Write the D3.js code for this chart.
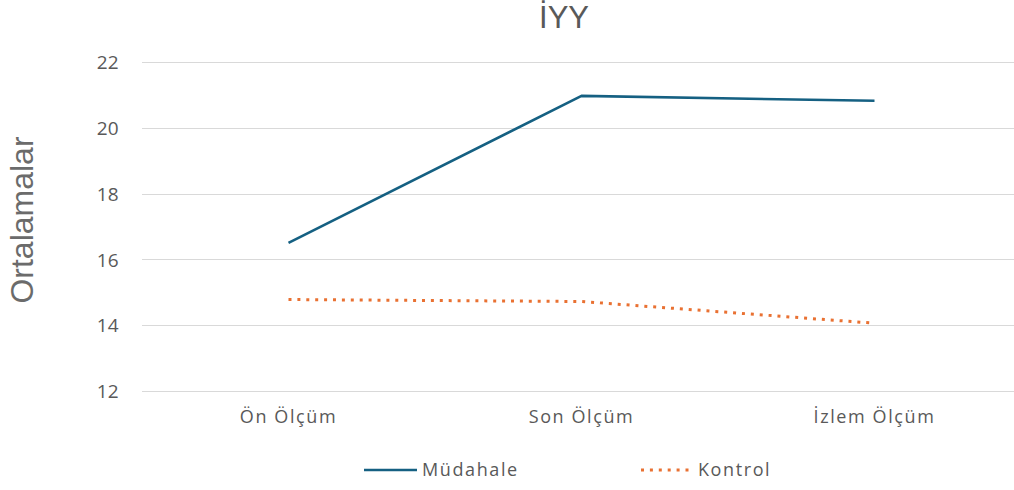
<!DOCTYPE html>
<html lang="tr">
<head>
  <meta charset="utf-8">
  <title>İYY</title>
  <script src="https://d3js.org/d3.v7.min.js"></script>
  <style>
  body {
    margin: 0;
    background: white;
  }
  .title {
    font-family: "Liberation Sans", Arial, sans-serif;
    font-size: 31px;
    fill: #595959;
    text-anchor: middle;
  }
  .y-title {
    font-family: "Liberation Sans", Arial, sans-serif;
    font-size: 32px;
    fill: #6b6b6b;
    text-anchor: middle;
  }
  .tick text, .legend text {
    font-family: "Open Sans", Roboto, sans-serif;
    font-weight: 500;
    fill: #595959;
  }
  .x-axis .tick text, .legend text {
    font-size: 18px;
    letter-spacing: 1.6px;
  }
  .y-axis .tick text {
    font-size: 19px;
    letter-spacing: 0.3px;
  }
  .grid line {
    stroke: #d9d9d9;
    stroke-width: 1;
  }
  </style>
</head>
<body>
<script>

// Data
var categories = ["Ön Ölçüm", "Son Ölçüm", "İzlem Ölçüm"];
var mudahale = [16.5, 20.97, 20.82];
var kontrol = [14.78, 14.72, 14.06];
var seriesNames = ["Müdahale", "Kontrol"];
var yTicks = [12, 14, 16, 18, 20, 22];

// Display constants
var width = 1014;
var height = 490;
var plotLeft = 142;
var plotRight = 1021;
var plotTop = 62;
var plotBottom = 391;

var colors = ["#156082", "#E97132"];

var svg = d3.select("body")
  .append("svg")
  .attr("width", width)
  .attr("height", height);

var x = d3.scaleBand()
  .domain(categories)
  .range([plotLeft, plotRight]);

var y = d3.scaleLinear()
  .domain([12, 22])
  .range([plotBottom, plotTop]);

// Gridlines
svg.append("g")
  .attr("class", "grid")
  .selectAll("line")
  .data(yTicks)
  .enter().append("line")
  .attr("x1", plotLeft)
  .attr("x2", width)
  .attr("y1", function(d) { return Math.round(y(d)) + 0.5; })
  .attr("y2", function(d) { return Math.round(y(d)) + 0.5; });

// Y axis labels
var yAxis = svg.append("g")
  .attr("class", "y-axis")
  .attr("transform", "translate(" + 119 + ",0)")
  .call(d3.axisLeft(y).tickValues(yTicks).tickSize(0).tickPadding(0));
yAxis.select(".domain").remove();
yAxis.selectAll("text").attr("dy", "0.35em");

// X axis labels
var xAxis = svg.append("g")
  .attr("class", "x-axis")
  .attr("transform", "translate(0," + 423 + ")")
  .call(d3.axisBottom(x).tickSize(0).tickPadding(0));
xAxis.select(".domain").remove();
xAxis.selectAll("text").attr("y", 0).attr("dy", 0);

// Lines
var line = d3.line()
  .x(function(d, i) { return x(categories[i]) + x.bandwidth() / 2; })
  .y(function(d) { return y(d); });

svg.append("path")
  .datum(mudahale)
  .attr("fill", "none")
  .attr("stroke", colors[0])
  .attr("stroke-width", 2.6)
  .attr("stroke-linejoin", "round")
  .attr("d", line);

svg.append("path")
  .datum(kontrol)
  .attr("fill", "none")
  .attr("stroke", colors[1])
  .attr("stroke-width", 3)
  .attr("stroke-dasharray", "3,5.9")
  .attr("d", line);

// Title
svg.append("text")
  .attr("class", "title")
  .attr("x", 564)
  .attr("y", 28)
  .text("İYY");

// Y axis title
svg.append("text")
  .attr("class", "y-title")
  .attr("transform", "translate(33,220) rotate(-90)")
  .text("Ortalamalar");

// Legend
var legend = svg.append("g").attr("class", "legend");
var legendX = [364, 641];
seriesNames.forEach(function(name, i) {
  var g = legend.append("g")
    .attr("transform", "translate(" + legendX[i] + ",470)");
  g.append("line")
    .attr("x1", 0)
    .attr("x2", i == 0 ? 53 : 50)
    .attr("stroke", colors[i])
    .attr("stroke-width", i == 0 ? 2.6 : 3)
    .attr("stroke-dasharray", i == 0 ? null : "3,5.9");
  g.append("text")
    .attr("x", i == 0 ? 58 : 57)
    .attr("y", 6)
    .text(name);
});
</script>
</body>
</html>
